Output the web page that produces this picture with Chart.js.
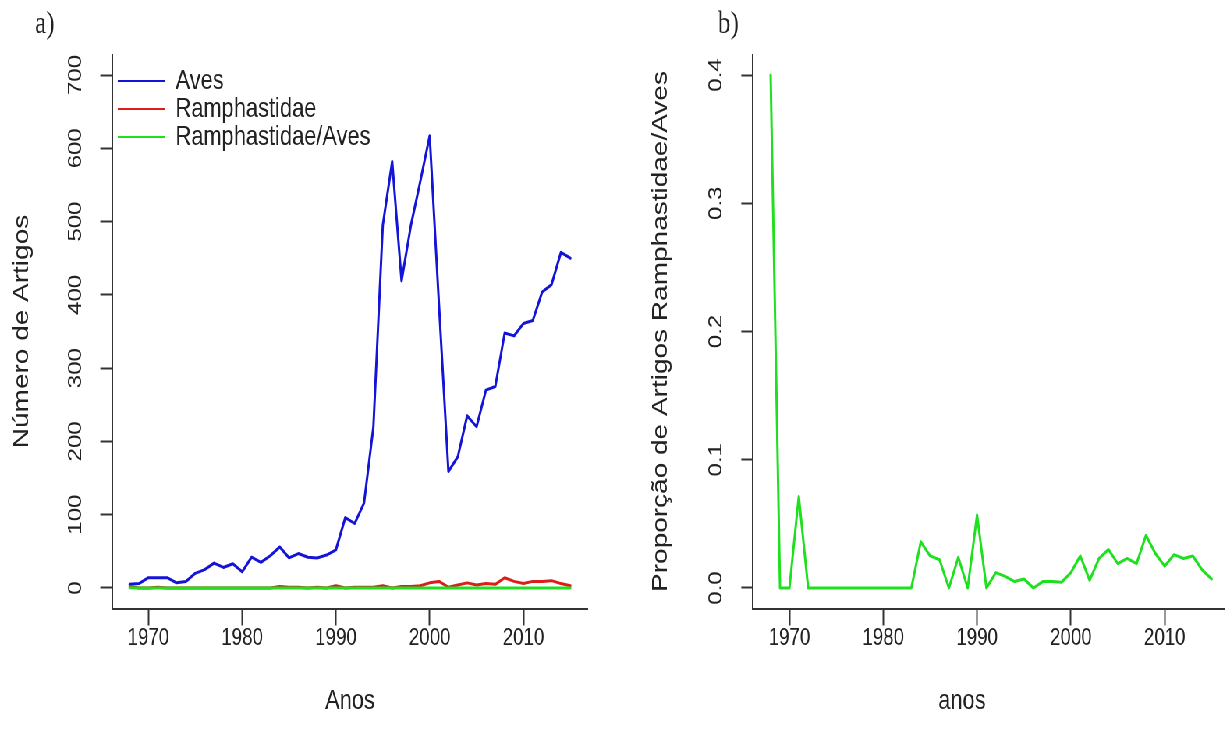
<!DOCTYPE html>
<html>
<head>
<meta charset="utf-8">
<title>Artigos Aves / Ramphastidae</title>
<script src="https://cdn.jsdelivr.net/npm/chart.js@4.4.1/dist/chart.umd.min.js"></script>
<style>
  html, body { margin: 0; padding: 0; background: #fff; overflow: hidden; }
  /* the figure is laid out wide and then narrowed, like the exported R png */
  #figura { position: absolute; left: 0; top: 0; width: 1571px; height: 742px;
            transform: scaleX(0.78); transform-origin: 0 0; overflow: hidden; }
  #figura canvas { position: absolute; top: 0; }
  #graficoA { left: 0; }
  #graficoB { left: 800px; }
</style>
</head>
<body>
<div id="figura">
  <canvas id="graficoA" width="790" height="742"></canvas>
  <canvas id="graficoB" width="800" height="742"></canvas>
</div>
<script>
var anos = [1968, 1969, 1970, 1971, 1972, 1973, 1974, 1975, 1976, 1977, 1978, 1979,
            1980, 1981, 1982, 1983, 1984, 1985, 1986, 1987, 1988, 1989, 1990, 1991,
            1992, 1993, 1994, 1995, 1996, 1997, 1998, 1999, 2000, 2001, 2002, 2003,
            2004, 2005, 2006, 2007, 2008, 2009, 2010, 2011, 2012, 2013, 2014, 2015];

var artigosAves = [5, 6, 14, 14, 14, 7, 9, 20, 25, 34, 28, 33,
                   22, 42, 35, 44, 56, 41, 47, 42, 41, 45, 52, 96,
                   88, 116, 220, 495, 582, 419, 495, 555, 617, 385, 159, 179,
                   235, 220, 270, 275, 348, 344, 361, 365, 404, 414, 458, 450];

var artigosRamphastidae = [2, 0, 0, 1, 0, 0, 0, 0, 0, 0, 0, 0,
                           0, 0, 0, 0, 2, 1, 1, 0, 1, 0, 3, 0,
                           1, 1, 1, 3, 0, 2, 2, 3, 7, 9, 1, 4,
                           7, 4, 6, 5, 14, 9, 6, 9, 9, 10, 6, 3];

var proporcao = [0.4, 0, 0, 0.0714, 0, 0, 0, 0, 0, 0, 0, 0,
                 0, 0, 0, 0, 0.036, 0.025, 0.022, 0, 0.024, 0, 0.057, 0,
                 0.012, 0.009, 0.005, 0.007, 0, 0.005, 0.005, 0.0045, 0.012, 0.025, 0.006, 0.023,
                 0.030, 0.019, 0.023, 0.019, 0.041, 0.027, 0.017, 0.026, 0.023, 0.025, 0.014, 0.007];

var ticksAnos = [1970, 1980, 1990, 2000, 2010];
var ticksArtigos = [0, 100, 200, 300, 400, 500, 600, 700];
var ticksProporcao = [0, 0.1, 0.2, 0.3, 0.4];

var corEixo = '#333';
var corTexto = '#222';
Chart.defaults.font.family = '"Liberation Sans", Arial, sans-serif';
Chart.defaults.color = corTexto;

function pontos(valores) {
    return anos.map(function(a, i) { return {x: a, y: valores[i]}; });
}

function linha(rotulo, valores, cor, ordem) {
    return {
        label: rotulo,
        data: pontos(valores),
        borderColor: cor,
        backgroundColor: cor,
        borderWidth: 3,
        pointRadius: 0,
        tension: 0,
        borderJoinStyle: 'round',
        borderCapStyle: 'round',
        order: ordem
    };
}

function eixoX(titulo) {
    return {
        type: 'linear',
        min: 1966.12,
        max: 2016.88,
        afterFit: function(s) { s.height = 133.5; },
        afterBuildTicks: function(s) { s.ticks = ticksAnos.map(function(v) { return {value: v}; }); },
        border: {display: true, color: corEixo, width: 2},
        grid: {drawOnChartArea: false, tickLength: 17, tickColor: corEixo, tickWidth: 2},
        ticks: {autoSkip: false, maxRotation: 0, padding: -2, font: {size: 24},
                callback: function(v) { return String(v); }},
        title: {display: !!titulo, text: titulo, font: {size: 28}, padding: {top: 0, bottom: 24}}
    };
}

function eixoY(min, max, ticks, largura, titulo, recuo) {
    return {
        min: min,
        max: max,
        afterFit: function(s) { s.width = largura; },
        afterBuildTicks: function(s) { s.ticks = ticks.map(function(v) { return {value: v}; }); },
        border: {display: true, color: corEixo, width: 2},
        grid: {drawOnChartArea: false, tickLength: 15, tickColor: corEixo, tickWidth: 2},
        ticks: {display: false},
        title: {display: true, text: titulo, font: {size: 28}, padding: {top: recuo, bottom: 0}}
    };
}

// rotated y tick labels, panel letter and an optional free x title
var rotulos = {
    id: 'rotulos',
    afterDraw: function(chart, args, opts) {
        var ctx = chart.ctx, area = chart.chartArea, ys = chart.scales.y;
        ctx.save();
        ctx.fillStyle = corTexto;
        ctx.font = '24px "Liberation Sans", Arial, sans-serif';
        ctx.textAlign = 'center';
        ctx.textBaseline = 'alphabetic';
        ys.ticks.forEach(function(t) {
            ctx.save();
            ctx.translate(area.left - 40, ys.getPixelForValue(t.value));
            ctx.rotate(-Math.PI / 2);
            ctx.fillText(t.value.toFixed(opts.casas), 0, 0);
            ctx.restore();
        });
        ctx.font = '32px "Liberation Serif", "DejaVu Serif", serif';
        ctx.textAlign = 'left';
        ctx.textBaseline = 'middle';
        ctx.fillText(opts.letra, opts.letraX, 25);
        if (opts.tituloX) {
            ctx.font = '28px "Liberation Sans", Arial, sans-serif';
            ctx.textAlign = 'center';
            ctx.fillText(opts.tituloX, opts.tituloXPos, chart.height - 41);
        }
        ctx.restore();
    }
};

// legend sits in the top left corner of the plot area
var legendaFixa = {
    id: 'legendaFixa',
    afterLayout: function(chart, args, opts) {
        var lg = chart.legend;
        if (!lg) return;
        lg.left = opts.left;
        lg.top = opts.top;
        lg.right = opts.left + 600;
        lg.bottom = opts.top + 200;
    }
};

const graficoA = new Chart(document.getElementById('graficoA'), {
    type: 'line',
    data: {
        datasets: [
            linha('Aves', artigosAves, '#1414d8', 3),
            linha('Ramphastidae', artigosRamphastidae, '#dd1c1c', 2),
            linha('Ramphastidae/Aves', proporcao, '#1fe01f', 1)
        ]
    },
    options: {
        responsive: false,
        animation: false,
        events: [],
        layout: {padding: {left: 0, right: 36.2, top: 54.5, bottom: 0}},
        scales: {
            x: eixoX('Anos'),
            y: eixoY(-28, 728, ticksArtigos, 143.6, 'Número de Artigos', 11.2)
        },
        plugins: {
            tooltip: {enabled: false},
            legend: {
                position: 'chartArea',
                align: 'start',
                labels: {
                    usePointStyle: true,
                    pointStyle: 'line',
                    pointStyleWidth: 60,
                    padding: 0,
                    color: corTexto,
                    font: {size: 28},
                    sort: function(a, b) { return a.datasetIndex - b.datasetIndex; },
                    generateLabels: function(chart) {
                        var itens = Chart.defaults.plugins.legend.labels.generateLabels(chart);
                        itens.forEach(function(it) { it.lineWidth = 2; });
                        return itens;
                    }
                }
            },
            legendaFixa: {left: 151, top: 67},
            rotulos: {casas: 0, letra: 'a)', letraX: 45}
        }
    },
    plugins: [rotulos, legendaFixa]
});

const graficoB = new Chart(document.getElementById('graficoB'), {
    type: 'line',
    data: {
        datasets: [linha('Ramphastidae/Aves', proporcao, '#1fe01f', 1)]
    },
    options: {
        responsive: false,
        animation: false,
        events: [],
        layout: {padding: {left: 0, right: 24, top: 54.5, bottom: 0}},
        scales: {
            x: eixoX(''),
            y: eixoY(-0.016, 0.416, ticksProporcao, 165.4, 'Proporção de Artigos Ramphastidae/Aves', 30.6)
        },
        plugins: {
            tooltip: {enabled: false},
            legend: {display: false},
            rotulos: {casas: 1, letra: 'b)', letraX: 120.5, tituloX: 'anos', tituloXPos: 433.3}
        }
    },
    plugins: [rotulos]
});
</script>
</body>
</html>
